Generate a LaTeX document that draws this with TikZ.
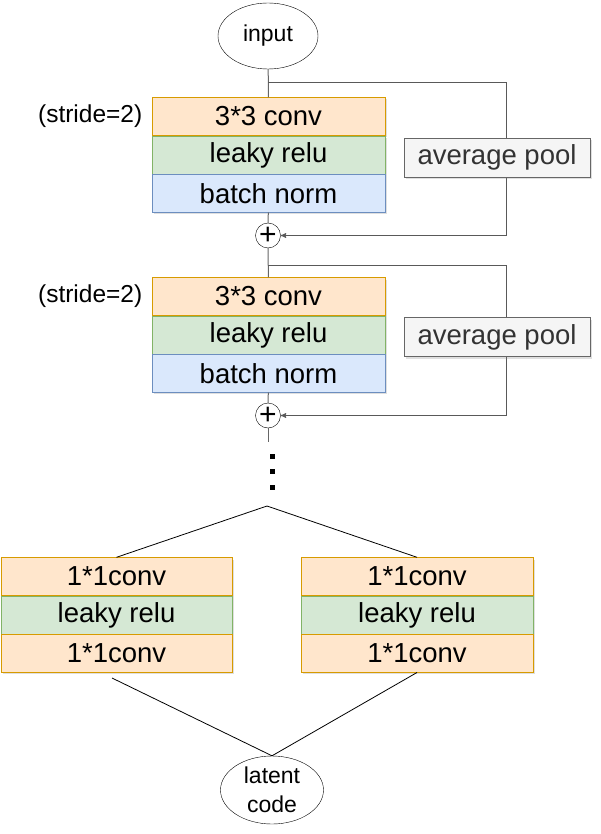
\documentclass[tikz,border=0pt]{standalone}
\usepackage{fontspec}
\setmainfont{Liberation Sans}
\usepackage{xcolor}
\usetikzlibrary{positioning}
\usetikzlibrary{shapes,arrows,shadows}
\definecolor{convfill}{HTML}{FFE6CC}
\definecolor{convline}{HTML}{D79B00}
\definecolor{relufill}{HTML}{D5E8D4}
\definecolor{reluline}{HTML}{82B366}
\definecolor{normfill}{HTML}{DAE8FC}
\definecolor{normline}{HTML}{6C8EBF}
\definecolor{poolfill}{HTML}{F5F5F5}
\definecolor{poolline}{HTML}{666666}
\definecolor{pooltext}{HTML}{333333}
\tikzset{
  layer/.style = {rectangle, inner sep=0pt, minimum width=233pt,
    minimum height=38pt, font=\fontsize{27.5}{30}\selectfont,
    drop shadow={shadow xshift=2pt, shadow yshift=-2pt, opacity=0.25}},
  l_conv/.style = {layer, fill=convfill, draw=convline},% conv
  l_relu/.style = {layer, fill=relufill, draw=reluline},% activation
  l_norm/.style = {layer, fill=normfill, draw=normline},% normalisation
  l_pool/.style = {layer, fill=poolfill, draw=poolline, text=pooltext,
    minimum width=186pt, minimum height=39pt},% skip branch
  io/.style = {ellipse, draw=black, inner sep=0pt, align=center,
    font=\fontsize{23}{29}\selectfont},
  sum/.style = {circle, draw=black, fill=white, inner sep=0pt,
    minimum size=25pt, font=\fontsize{30}{30}\selectfont},
  dot/.style = {rectangle, fill=black, inner sep=0pt, minimum width=5pt,
    minimum height=5pt},
  trunk/.style = {draw=black!60, line width=1pt},
  skip/.style = {draw=black!65, line width=1pt},
  fork/.style = {draw=black, line width=0.8pt}
}
\begin{document}
\begin{tikzpicture}[x=1pt,y=-1pt,>=stealth']
\useasboundingbox (0,0) rectangle (601,834);
\node [io, minimum width=100pt, minimum height=66pt] (in) at (268,36) {input};
% first block
\node [l_conv] (c1) at (268.5,116.5) {3*3 conv};
\node [l_relu, below=0pt of c1] (r1) {leaky relu};
\node [l_norm, below=0pt of r1] (b1) {batch norm};
\node [left=6pt of c1, font=\fontsize{24.5}{28}\selectfont] (st1) {(stride=2)};
\node [sum] (p1) at (268,235.5) {+};
% second block
\node [l_conv] (c2) at (268.5,296.5) {3*3 conv};
\node [l_relu, below=0pt of c2] (r2) {leaky relu};
\node [l_norm, below=0pt of r2] (b2) {batch norm};
\node [left=6pt of c2, font=\fontsize{24.5}{28}\selectfont] (st2) {(stride=2)};
\node [sum] (p2) at (268,415.5) {+};
% more blocks
\coordinate (e) at (268,442);
\node [dot] (d1) at (272,456) {};
\node [dot] (d2) at (272,471.5) {};
\node [dot] (d3) at (272,487) {};
% two heads
\coordinate (fk) at (267,506);
\node [l_conv, minimum width=231pt] (ca) at (116.5,576.5) {1*1conv};
\node [l_relu, minimum width=231pt, below=0pt of ca] (ra) {leaky relu};
\node [l_conv, minimum width=231pt, below=0pt of ra] (cb) {1*1conv};
\node [l_conv, minimum width=232pt] (cc) at (417,576.5) {1*1conv};
\node [l_relu, minimum width=232pt, below=0pt of cc] (rc) {leaky relu};
\node [l_conv, minimum width=232pt, below=0pt of rc] (cd) {1*1conv};
\node [io, minimum width=103pt, minimum height=68pt] (lat) at (272,790)
  {latent\\code};
% connectors
\coordinate (s1) at (268,83);
\coordinate (k1) at (506,83);
\coordinate (s2) at (268,265);
\coordinate (k2) at (506,265);
\coordinate (cb_end) at (112,678);
\draw [trunk] (in) -- (c1);
\draw [trunk] (b1) -- (p1);
\draw [trunk] (p1) -- (c2);
\draw [trunk] (b2) -- (p2);
\draw [trunk] (p2) -- (e);
\draw [skip,->] (s1) -- (k1) |- (p1);
\draw [skip,->] (s2) -- (k2) |- (p2);
\draw [fork] (fk) -- (ca.north);
\draw [fork] (fk) -- (cc.north);
\draw [fork] (cb_end) -- (lat.north);
\draw [fork] (cd.south) -- (lat.north);
% skip pools on top of the lines
\node [l_pool] (ap1) at (497,157.5) {average pool};
\node [l_pool] (ap2) at (497,337) {average pool};
\end{tikzpicture}
\end{document}
